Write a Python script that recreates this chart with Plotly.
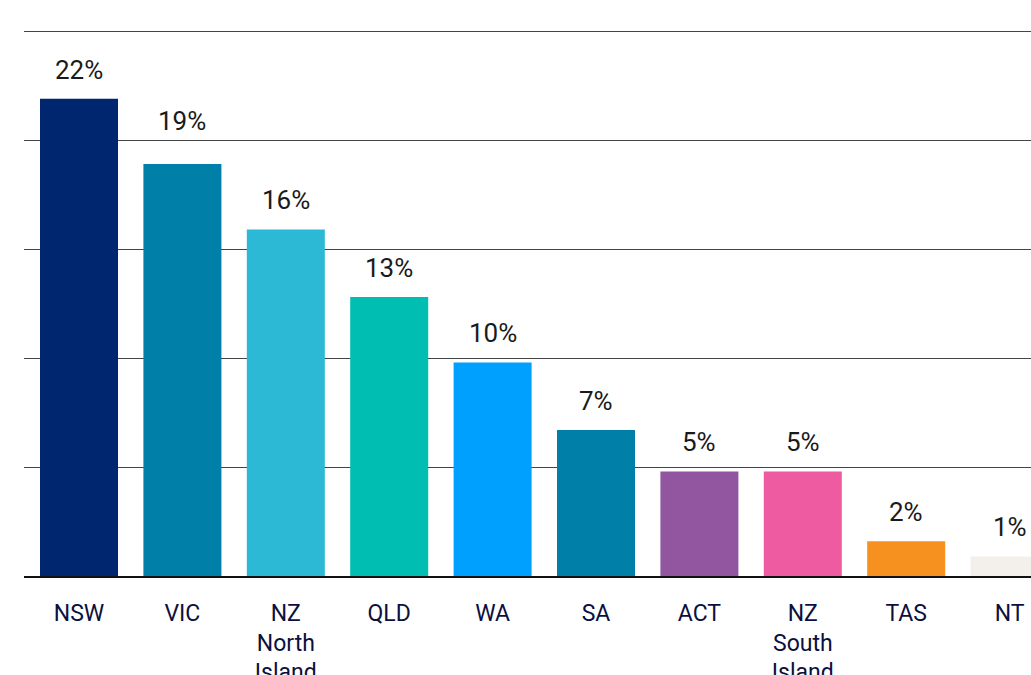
import plotly.graph_objects as go

categories = ["NSW", "VIC", "NZ<br>North<br>Island", "QLD", "WA", "SA", "ACT",
              "NZ<br>South<br>Island", "TAS", "NT"]
values = [21.9, 18.9, 15.9, 12.8, 9.8, 6.7, 4.8, 4.8, 1.6, 0.9]
labels = ["22%", "19%", "16%", "13%", "10%", "7%", "5%", "5%", "2%", "1%"]
colors = ["#002670", "#0080A9", "#2CB9D6", "#00BFB2", "#00A0FF", "#0080A9",
          "#91569F", "#EE5BA0", "#F6901E", "#F3EFEA"]
y_ticks = [0, 5, 10, 15, 20, 25]

FONT = "Roboto, Arial, sans-serif"

fig = go.Figure()
fig.add_trace(go.Bar(
    x=list(range(len(categories))),
    y=values,
    marker=dict(color=colors, line=dict(width=0)),
    hoverinfo="skip",
    cliponaxis=True,
))

# value labels (the VIC label sits above the gridline in the original)
extra_shift = {1: 14}
for i, (v, t) in enumerate(zip(values, labels)):
    fig.add_annotation(
        x=i, y=v, text=t, showarrow=False, xref="x", yref="y",
        yanchor="middle", xanchor="center",
        yshift=29 + extra_shift.get(i, 0),
        font=dict(family=FONT, size=26, color="#1a1a1a"),
    )

fig.update_layout(
    width=1031, height=675,
    margin=dict(l=24, r=0, t=29, b=99, pad=0, autoexpand=False),
    paper_bgcolor="white", plot_bgcolor="white",
    showlegend=False,
    bargap=0.2456,
    font=dict(family=FONT),
)
fig.update_xaxes(
    range=[-0.532, 9.207],
    tickmode="array",
    tickvals=list(range(len(categories))),
    ticktext=categories,
    tickfont=dict(family=FONT, size=23, color="#0b1040"),
    ticks="outside", ticklen=0, tickcolor="white",
    ticklabelstandoff=15,
    automargin=False,
    showgrid=False,
    showline=True, linecolor="#111111", linewidth=2,
    zeroline=False,
    fixedrange=True,
)
fig.update_yaxes(
    range=[0, 25.1],
    tickmode="array", tickvals=y_ticks,
    showticklabels=False,
    automargin=False,
    showgrid=True, gridcolor="#444444", gridwidth=1,
    zeroline=False, showline=False,
    fixedrange=True,
)

fig.write_html(
    "out.html",
    config={"displayModeBar": False},
    post_script="document.body.style.margin='0';document.body.style.overflow='hidden';",
)
